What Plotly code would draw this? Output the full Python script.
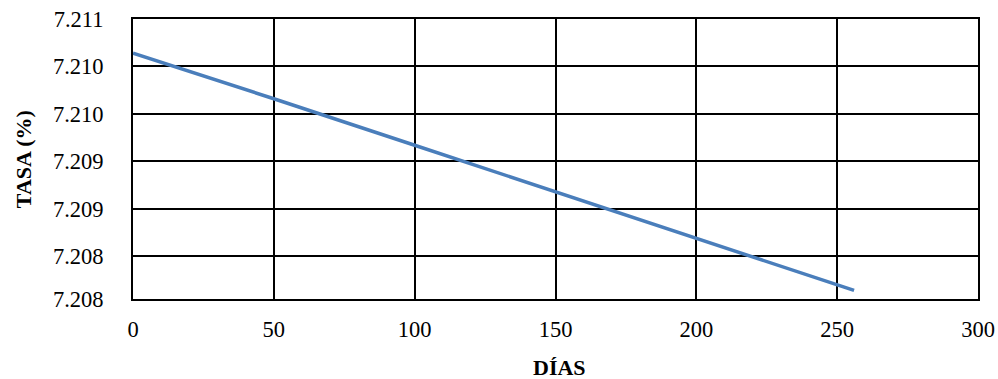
import plotly.graph_objects as go

dias = [0, 50, 100, 150, 200, 256]
tasa = [7.21064, 7.21016, 7.20967, 7.20918, 7.20869, 7.20814]

y_tickvals = [7.20805, 7.2085, 7.2090, 7.2095, 7.2100, 7.2105, 7.2110]
y_ticktext = ["7.208", "7.208", "7.209", "7.209", "7.210", "7.210", "7.211"]
x_tickvals = [0, 50, 100, 150, 200, 250, 300]

font_family = "Liberation Serif"
tick_size = 22.5
title_size = 22

fig = go.Figure()
fig.add_trace(go.Scatter(
    x=dias, y=tasa, mode="lines",
    line=dict(color="#4A7EBB", width=3.5),
    showlegend=False, hoverinfo="skip",
))

fig.update_layout(
    width=998, height=379,
    margin=dict(l=133, r=20, t=19, b=80, autoexpand=False),
    paper_bgcolor="white", plot_bgcolor="white",
    font=dict(family=font_family, size=tick_size, color="black"),
    xaxis=dict(
        range=[0, 300], tickvals=x_tickvals, automargin=False,
        ticklabeloverflow="allow",
        showgrid=True, gridcolor="black", gridwidth=1.5,
        showline=True, linecolor="black", linewidth=2, mirror=True,
        zeroline=False, ticks="", ticklabelstandoff=9,
        tickfont=dict(family=font_family, size=tick_size, color="black"),
    ),
    yaxis=dict(
        range=[7.20805, 7.2110], tickvals=y_tickvals, ticktext=y_ticktext,
        automargin=False, ticklabeloverflow="allow",
        showgrid=True, gridcolor="black", gridwidth=1.5,
        showline=True, linecolor="black", linewidth=2, mirror=True,
        zeroline=False, ticks="", ticklabelstandoff=23,
        tickfont=dict(family=font_family, size=tick_size, color="black"),
    ),
    annotations=[
        dict(text="<b>DÍAS</b>", xref="paper", yref="paper",
             x=0.505, y=-0.246, xanchor="center", yanchor="middle",
             showarrow=False, font=dict(family=font_family, size=title_size, color="black")),
        dict(text="<b>TASA (%)</b>", xref="paper", yref="paper",
             x=-0.130, y=0.5, xanchor="center", yanchor="middle", textangle=-90,
             showarrow=False, font=dict(family=font_family, size=title_size, color="black")),
    ],
)

fig.write_html(
    "out.html",
    config={"displayModeBar": False},
    post_script="document.body.style.margin='0';document.body.style.overflow='hidden';",
)
